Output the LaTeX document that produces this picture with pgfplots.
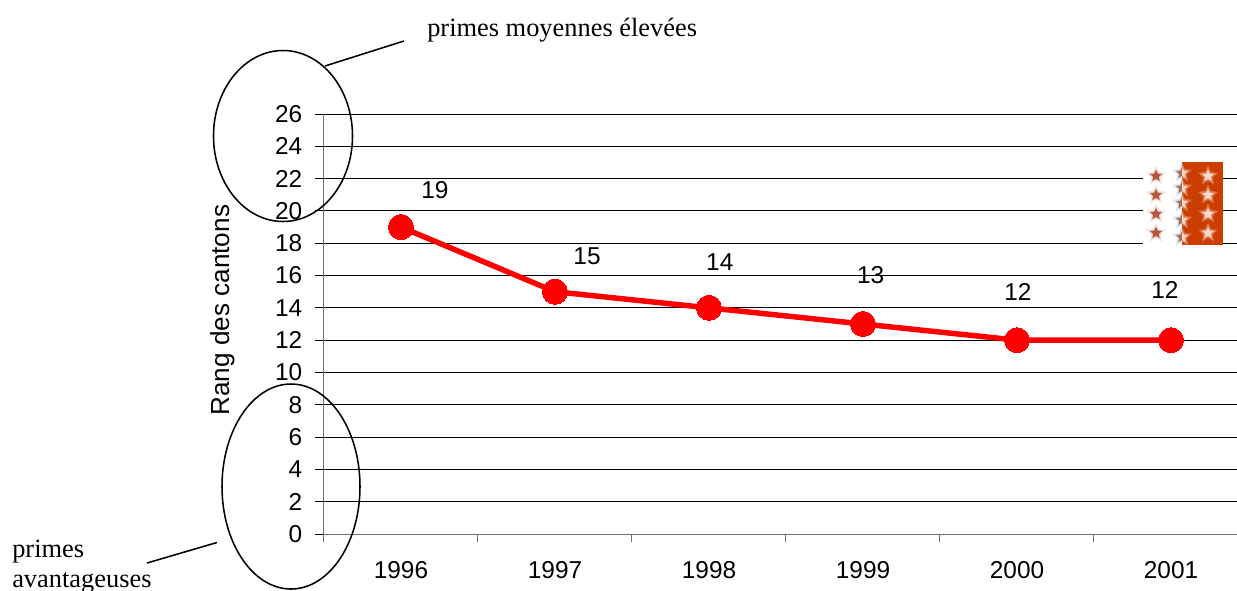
\documentclass[border=0pt]{standalone}
\usepackage{fontspec}
\setmainfont{Liberation Sans}
\newfontfamily\serif{Liberation Serif}
\usepackage{pgfplots}
\pgfplotsset{compat=1.18}
\usetikzlibrary{shapes.geometric}
\definecolor{flagred}{HTML}{CC3D00}
\definecolor{axisgray}{HTML}{707070}
\definecolor{starleft}{HTML}{B4583F}
\definecolor{starhalo}{HTML}{F0C8BC}
\definecolor{starright}{HTML}{F9D6C8}
\definecolor{starmid}{HTML}{A07060}

\newcommand{\flagstar}[4]{% x, y, halo colour, core colour
  \node[star, star points=5, star point ratio=2.1, minimum size=15.5pt, inner sep=0pt, fill=#3, opacity=.55] at (#1,#2) {};
  \node[star, star points=5, star point ratio=2.1, minimum size=9.5pt, inner sep=0pt, fill=#4] at (#1,#2) {};
}

\begin{document}
\begin{tikzpicture}[x=0.75pt, y=-0.75pt]
\path[use as bounding box] (0,0) rectangle (1237,590);

\begin{axis}[
    at={(242.25pt,-400.5pt)},
    anchor=south west,
    scale only axis,
    width=685.5pt,
    height=315pt,
    xmin=-0.5065, xmax=5.4286,
    ymin=0, ymax=26,
    axis x line*=bottom,
    axis y line*=left,
    axis line style={axisgray, line width=0.75pt, -},
    xtick={0,1,2,3,4,5},
    xticklabels={1996,1997,1998,1999,2000,2001},
    minor xtick={-0.5065,0.4935,1.4935,2.4935,3.4935,4.4935},
    ytick={0,2,...,26},
    major x tick style={draw=none},
    minor tick length=6pt,
    minor tick style={axisgray, line width=0.75pt},
    major tick length=6pt,
    tick align=outside,
    ymajorgrids,
    grid style={black, line width=0.75pt},
    ytick style={black, line width=0.75pt},
    tick label style={font=\fontsize{18.3}{20}\selectfont, /pgf/number format/assume math mode=true},
    /pgf/number format/1000 sep={},
    yticklabel style={xshift=-6pt},
    xticklabel style={yshift=-11pt},
    ylabel={Rang des cantons},
    ylabel style={at={(axis description cs:-0.1095,0.533)}, anchor=center, font=\fontsize{19.6}{22}\selectfont},
    clip=false,
]
\addplot[red, line width=4.1pt, mark=*, mark size=9.4pt, mark options={fill=red, draw=red, line width=0pt}]
    coordinates {(0,19) (1,15) (2,14) (3,13) (4,12) (5,12)};

\node[font=\fontsize{18.3}{20}\selectfont] at (axis cs:0.22,21.3) {19};
\node[font=\fontsize{18.3}{20}\selectfont] at (axis cs:1.208,17.2) {15};
\node[font=\fontsize{18.3}{20}\selectfont] at (axis cs:2.07,16.84) {14};
\node[font=\fontsize{18.3}{20}\selectfont] at (axis cs:3.05,16.04) {13};
\node[font=\fontsize{18.3}{20}\selectfont] at (axis cs:4.006,14.98) {12};
\node[font=\fontsize{18.3}{20}\selectfont] at (axis cs:4.96,15.1) {12};
\end{axis}

% callouts
\draw[black, line width=1.15pt] (283,136) ellipse [x radius=69.5, y radius=85.5];
\draw[black, line width=1.15pt] (291,486.5) ellipse [x radius=69, y radius=102.5];
\draw[black, line width=1.15pt] (325,66) -- (404,41);
\draw[black, line width=1.15pt] (147,563) -- (217,542.5);
\node[anchor=base west, inner sep=0pt, font=\serif\fontsize{19.8}{22}\selectfont] at (427,36) {primes moyennes élevées};
\node[anchor=base west, inner sep=0pt, font=\serif\fontsize{19.8}{22}\selectfont] at (12,557) {primes};
\node[anchor=base west, inner sep=0pt, font=\serif\fontsize{19.8}{22}\selectfont] at (12,587) {avantageuses};

% flag of Valais
\fill[white] (1143,162) rectangle (1182,245);
\fill[flagred] (1182,162) rectangle (1223,245);
\foreach \y in {176,195,214,233} {
  \flagstar{1156}{\y}{starhalo}{starleft}
  \flagstar{1208}{\y}{white!55!flagred}{starright}
}
\foreach \y in {173,188,203,220,237} {
  \begin{scope}
    \clip (1170,\y-10) rectangle (1182,\y+10);
    \flagstar{1182}{\y}{black!20}{starmid}
  \end{scope}
  \begin{scope}
    \clip (1182,\y-10) rectangle (1194,\y+10);
    \flagstar{1182}{\y}{white!55!flagred}{starright}
  \end{scope}
}
\end{tikzpicture}
\end{document}
